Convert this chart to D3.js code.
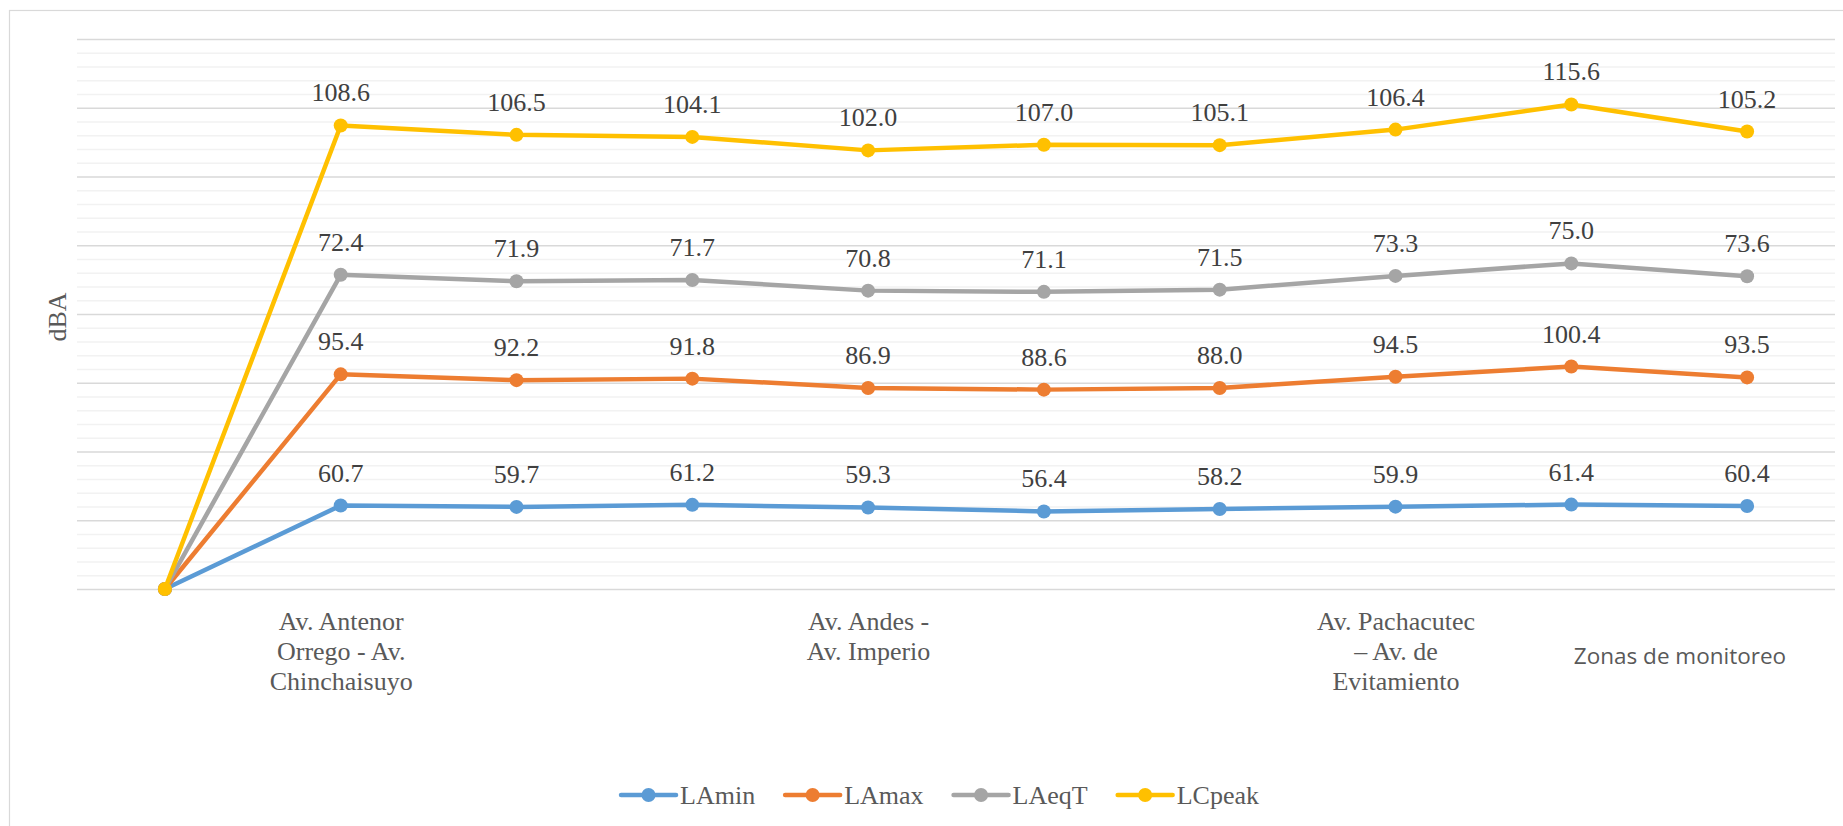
<!DOCTYPE html>
<html>
<head>
<meta charset="utf-8">
<script src="https://cdn.jsdelivr.net/npm/d3@7/dist/d3.min.js"></script>
<style>
  html, body { margin: 0; padding: 0; background: #fff; }
  svg { display: block; }
</style>
</head>
<body>
<svg id="chart" width="1843" height="826"></svg>
<script>
// Monitoring zones (first slot is the empty origin point); only some zones carry a tick label.
const categories = ["", "Av. Antenor\nOrrego - Av.\nChinchaisuyo", "", "", "Av. Andes -\nAv. Imperio", "", "", "Av. Pachacutec\n– Av. de\nEvitamiento", "", ""];

// Sound levels per zone, dBA (stacked in the chart)
const LAmin  = [0, 60.7, 59.7, 61.2, 59.3, 56.4, 58.2, 59.9, 61.4, 60.4];
const LAmax  = [0, 95.4, 92.2, 91.8, 86.9, 88.6, 88.0, 94.5, 100.4, 93.5];
const LAeqT  = [0, 72.4, 71.9, 71.7, 70.8, 71.1, 71.5, 73.3, 75.0, 73.6];
const LCpeak = [0, 108.6, 106.5, 104.1, 102.0, 107.0, 105.1, 106.4, 115.6, 105.2];

const seriesNames = ["LAmin", "LAmax", "LAeqT", "LCpeak"];
const seriesColors = ["#5B9BD5", "#ED7D31", "#A5A5A5", "#FFC000"];

const yMax = 400, yMajorStep = 50, yMinorStep = 10;

const SERIF = "Liberation Serif";
const SANS = "Open Sans";

const svg = d3.select("#chart");
const W = 1843, H = 826;
const plot = { left: 77, right: 1835, top: 39, bottom: 589 };

// Chart area frame
svg.append("rect")
  .attr("x", 9.5).attr("y", 10.5)
  .attr("width", W).attr("height", H)
  .attr("fill", "#fff").attr("stroke", "#d9d9d9").attr("stroke-width", 1.2);

const idx = d3.range(categories.length);
const x = d3.scalePoint().domain(idx).range([plot.left, plot.right]).padding(0.5);
const y = d3.scaleLinear().domain([0, yMax]).range([plot.bottom, plot.top]);

// Gridlines: minor then major
const minorTicks = d3.range(0, yMax + 1, yMinorStep).filter(v => v % yMajorStep !== 0);
const majorTicks = d3.range(0, yMax + 1, yMajorStep);

const gMinor = svg.append("g").attr("transform", `translate(${plot.left},0)`)
  .call(d3.axisLeft(y).tickValues(minorTicks).tickSize(-(plot.right - plot.left)).tickFormat(""));
gMinor.select(".domain").remove();
gMinor.selectAll(".tick line").attr("stroke", "#f2f2f2").attr("stroke-width", 1.3);

const gMajor = svg.append("g").attr("transform", `translate(${plot.left},0)`)
  .call(d3.axisLeft(y).tickValues(majorTicks).tickSize(-(plot.right - plot.left)).tickFormat(""));
gMajor.select(".domain").remove();
gMajor.selectAll(".tick line").attr("stroke", "#d9d9d9").attr("stroke-width", 1.3);

// Category labels (multi-line, centered under each zone)
const gx = svg.append("g").attr("transform", `translate(0,${plot.bottom})`)
  .call(d3.axisBottom(x).tickSize(0).tickFormat(""));
gx.select(".domain").remove();
gx.selectAll(".tick").each(function(d) {
  const lines = categories[d] ? categories[d].split("\n") : [];
  const t = d3.select(this).append("text")
    .style("font-family", SERIF)
    .style("font-size", "26px")
    .attr("text-anchor", "middle")
    .attr("fill", "#595959");
  lines.forEach((ln, i) => {
    t.append("tspan").attr("x", 0).attr("y", 41 + i * 30).text(ln);
  });
});

// Stacked series
const table = idx.map(i => ({ LAmin: LAmin[i], LAmax: LAmax[i], LAeqT: LAeqT[i], LCpeak: LCpeak[i] }));
const stacked = d3.stack().keys(seriesNames)(table);

const line = d3.line().x((d, i) => x(i)).y(d => y(d[1]));

stacked.forEach((s, si) => {
  const g = svg.append("g");
  g.append("path")
    .datum(s)
    .attr("d", line)
    .attr("fill", "none")
    .attr("stroke", seriesColors[si])
    .attr("stroke-width", 4.5)
    .attr("stroke-linejoin", "round")
    .attr("stroke-linecap", "round");
  g.selectAll("circle")
    .data(s)
    .join("circle")
    .attr("cx", (d, i) => x(i))
    .attr("cy", d => y(d[1]))
    .attr("r", 7)
    .attr("fill", seriesColors[si]);
});

// Data labels above each point
stacked.forEach((s, si) => {
  svg.append("g").selectAll("text")
    .data(s.map((d, i) => ({ d, i })).filter(o => o.i > 0))
    .join("text")
    .style("font-family", SERIF)
    .style("font-size", "26px")
    .attr("x", o => x(o.i))
    .attr("y", o => y(o.d[1]) - 24)
    .attr("text-anchor", "middle")
    .attr("fill", "#404040")
    .text(o => d3.format(".1f")(o.d.data[seriesNames[si]]));
});

// Axis titles
svg.append("text")
  .style("font-family", SERIF)
  .style("font-size", "26px")
  .attr("transform", "translate(66,317) rotate(-90)")
  .attr("text-anchor", "middle")
  .attr("fill", "#595959")
  .text("dBA");

svg.append("text")
  .style("font-family", SANS)
  .style("font-size", "22.5px")
  .attr("x", 1680).attr("y", 664)
  .attr("text-anchor", "middle")
  .attr("fill", "#595959")
  .text("Zonas de monitoreo");

// Legend
const legend = svg.append("g");
let lx = 0;
seriesNames.forEach((name, i) => {
  const it = legend.append("g").attr("transform", `translate(${lx},0)`);
  it.append("line").attr("x1", 0).attr("x2", 55).attr("y1", 0).attr("y2", 0)
    .attr("stroke", seriesColors[i]).attr("stroke-width", 4.5).attr("stroke-linecap", "round");
  it.append("circle").attr("cx", 27.5).attr("cy", 0).attr("r", 7).attr("fill", seriesColors[i]);
  const t = it.append("text")
    .style("font-family", SERIF)
    .style("font-size", "26px")
    .attr("x", 59).attr("y", 8.5)
    .attr("fill", "#595959").text(name);
  const w = t.node().getComputedTextLength();
  lx += 59 + w + 30;
});
const legendWidth = lx - 30;
legend.attr("transform", `translate(${940 - legendWidth / 2},795)`);
</script>
</body>
</html>
